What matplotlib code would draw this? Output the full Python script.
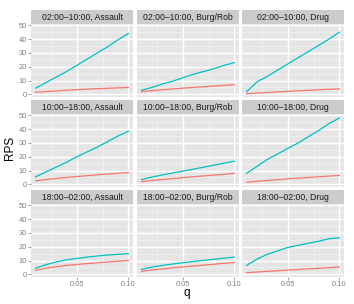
import matplotlib
matplotlib.use("Agg")
import matplotlib.pyplot as plt

# facet labels
times = ["02:00\u201310:00", "10:00\u201318:00", "18:00\u201302:00"]
crimes = ["Assault", "Burg/Rob", "Drug"]

q = [0.01, 0.02, 0.03, 0.04, 0.05, 0.06, 0.07, 0.08, 0.09, 0.10]

# cyan series (upper line), row by row
upper = {
    ("02:00\u201310:00", "Assault"): [4.5, 8.5, 12.5, 16.5, 21, 25.5, 30, 34.5, 39.5, 44],
    ("02:00\u201310:00", "Burg/Rob"): [3, 5, 7.5, 9.5, 12, 14.5, 16.5, 18.5, 21, 23],
    ("02:00\u201310:00", "Drug"): [2, 9, 13, 17.5, 22, 26.5, 31, 35.5, 40, 45],
    ("10:00\u201318:00", "Assault"): [5.5, 9, 12.5, 16, 20, 23.5, 27, 31, 35, 38.5],
    ("10:00\u201318:00", "Burg/Rob"): [3.5, 5.3, 6.8, 8.2, 9.6, 11, 12.4, 13.9, 15.3, 16.8],
    ("10:00\u201318:00", "Drug"): [8, 13, 18, 22, 26, 30, 34.5, 39, 44, 48],
    ("18:00\u201302:00", "Assault"): [4.5, 7, 9, 10.5, 11.5, 12.5, 13.3, 14, 14.5, 15],
    ("18:00\u201302:00", "Burg/Rob"): [3.6, 5.3, 6.5, 7.5, 8.4, 9.3, 10.1, 10.9, 11.7, 12.5],
    ("18:00\u201302:00", "Drug"): [6.5, 11, 14.5, 17, 19.5, 21, 22.5, 24, 25.8, 26.5],
}

# red series (lower line)
lower = {
    ("02:00\u201310:00", "Assault"): [1.5, 2, 2.5, 3, 3.4, 3.8, 4.1, 4.4, 4.7, 5],
    ("02:00\u201310:00", "Burg/Rob"): [2, 2.7, 3.3, 3.9, 4.5, 5, 5.5, 6, 6.5, 7],
    ("02:00\u201310:00", "Drug"): [0.5, 1, 1.4, 1.8, 2.2, 2.6, 2.9, 3.3, 3.7, 4],
    ("10:00\u201318:00", "Assault"): [2.5, 3.5, 4.3, 5, 5.7, 6.3, 6.9, 7.5, 8, 8.5],
    ("10:00\u201318:00", "Burg/Rob"): [2, 2.8, 3.5, 4.2, 4.9, 5.5, 6.1, 6.7, 7.3, 8],
    ("10:00\u201318:00", "Drug"): [1.5, 2.2, 2.8, 3.4, 4, 4.5, 5, 5.5, 6, 6.5],
    ("18:00\u201302:00", "Assault"): [3, 4.5, 5.5, 6.5, 7.2, 7.8, 8.4, 9, 9.5, 10],
    ("18:00\u201302:00", "Burg/Rob"): [2.2, 3.2, 4, 4.7, 5.4, 6, 6.7, 7.3, 8, 8.6],
    ("18:00\u201302:00", "Drug"): [1.2, 1.7, 2.2, 2.6, 3.1, 3.5, 4, 4.4, 4.9, 5.3],
}

y_ticks = [0, 10, 20, 30, 40, 50]
x_ticks = [0.05, 0.10]
x_ticklabels = ["0.05", "0.10"]

W, H = 354, 304
plt.rcParams['font.family'] = ['Liberation Sans', 'DejaVu Sans']
fig = plt.figure(figsize=(W / 100, H / 100), dpi=100)
fig.patch.set_facecolor("white")

col_left = [31, 137, 242]
col_w = 102
row_top = [10, 100, 190]
strip_h = 14
panel_h = 73

xlo, xhi = 0.0055, 0.1045
ylo, yhi = -1.9, 50.9

for r, t in enumerate(times):
    for c, cr in enumerate(crimes):
        x0 = col_left[c] / W
        ptop = row_top[r] + strip_h
        y0 = (H - ptop - panel_h) / H
        ax = fig.add_axes([x0, y0, col_w / W, panel_h / H])
        ax.set_facecolor("#E5E5E5")
        for s in ax.spines.values():
            s.set_visible(False)
        # minor grid
        for mx in [0.025, 0.075]:
            ax.axvline(mx, color="#F2F2F2", lw=0.5, zorder=0)
        for my in [5, 15, 25, 35, 45]:
            ax.axhline(my, color="#F2F2F2", lw=0.5, zorder=0)
        for mx in x_ticks:
            ax.axvline(mx, color="white", lw=1.0, zorder=0.5)
        for my in y_ticks:
            ax.axhline(my, color="white", lw=1.0, zorder=0.5)

        ax.plot(q, lower[(t, cr)], color="#F8766D", lw=0.9, zorder=2)
        ax.plot(q, upper[(t, cr)], color="#00BFC4", lw=0.9, zorder=2)
        ax.set_xlim(xlo, xhi)
        ax.set_ylim(ylo, yhi)
        ax.set_xticks(x_ticks)
        ax.set_yticks(y_ticks)
        ax.tick_params(length=2, width=0.5, color="#7F7F7F", labelsize=5.4,
                       labelcolor="#7F7F7F", pad=1)
        if c == 0:
            ax.set_yticklabels([str(v) for v in y_ticks])
        else:
            ax.set_yticklabels([])
            ax.tick_params(axis="y", length=0)
        if r == 2:
            ax.set_xticklabels(x_ticklabels)
        else:
            ax.set_xticklabels([])
            ax.tick_params(axis="x", length=0)

        # strip
        sax = fig.add_axes([x0, (H - row_top[r] - strip_h) / H, col_w / W, strip_h / H])
        sax.set_facecolor("#CCCCCC")
        sax.set_xticks([])
        sax.set_yticks([])
        for s in sax.spines.values():
            s.set_visible(False)
        sax.text(0.5, 0.47, t + ", " + cr, ha="center", va="center",
                 fontsize=6.2, color="#1A1A1A", transform=sax.transAxes)

fig.text(10 / W, 1 - 148 / H, "RPS", rotation=90, ha="center", va="center", fontsize=8.5)
fig.text(187 / W, 1 - 293 / H, "q", ha="center", va="center", fontsize=8.5)

fig.savefig("out.png", dpi=100)
